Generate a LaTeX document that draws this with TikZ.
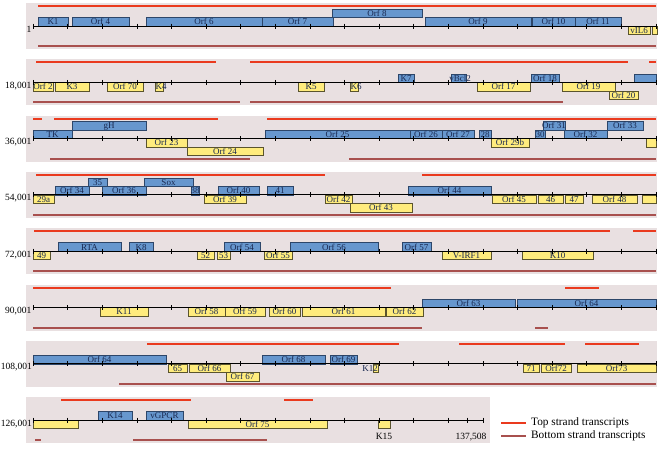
\documentclass[tikz,border=0pt]{standalone}
\usepackage{fontspec}
\setmainfont{Liberation Serif}
\definecolor{panelbg}{RGB}{233,224,225}
\definecolor{bfill}{RGB}{103,151,206}
\definecolor{bdraw}{RGB}{45,70,105}
\definecolor{yfill}{RGB}{255,236,125}
\definecolor{ydraw}{RGB}{90,84,45}
\definecolor{topred}{RGB}{234,58,30}
\definecolor{botbrown}{RGB}{168,80,78}
\definecolor{lbl}{RGB}{25,40,80}
\newcommand\gene[5]{%
  \pgfmathsetmacro\genW{#4-#3}%
  \pgfmathsetmacro\genX{(#3+#4)/2}%
  \node[#2, minimum width=\genW pt] (#1) at (\genX,\ay) {};%
  \node[glab] (#1t) at (#1.center) {#5};%
}
\newcommand\rowticks[1]{%
  \foreach \k in {0,...,#1} \draw[tick] ({33+34.61*\k},\ay-2.5) -- ({33+34.61*\k},\ay+2.5);%
}
\begin{document}
\begin{tikzpicture}[x=1pt,y=-1pt,
  panel/.style={fill=panelbg},
  tx/.style={draw=topred,line width=2pt},
  bx/.style={draw=botbrown,line width=2pt},
  axisline/.style={draw=black,line width=1pt},
  tick/.style={draw=black,line width=0.6pt},
  gbox/.style={draw,line width=0.6pt,minimum height=8.5pt,inner sep=0pt,outer sep=0pt,text height=0pt,text depth=0pt},
  B1/.style={gbox,fill=bfill,draw=bdraw,yshift=4.25pt},
  B2/.style={gbox,fill=bfill,draw=bdraw,yshift=12.75pt},
  Y1/.style={gbox,fill=yfill,draw=ydraw,yshift=-4.25pt},
  Y2/.style={gbox,fill=yfill,draw=ydraw,yshift=-12.75pt},
  glab/.style={font=\fontsize{9}{10}\selectfont,text=lbl,inner sep=0pt,text height=6.2pt,text depth=0pt},
  rowlab/.style={font=\fontsize{9.5}{11}\selectfont,inner sep=0pt,anchor=base east},
  endlab/.style={font=\fontsize{9.5}{11}\selectfont,inner sep=0pt,text height=6.5pt,text depth=0pt},
  leglab/.style={font=\fontsize{11.3}{13}\selectfont,inner sep=0pt,anchor=west}]
\useasboundingbox (0,0) rectangle (664,451);
% ---------------- Row 1
\def\ay{26}
\fill[panel] (26,\ay-23) rectangle (657,\ay+23);
\draw[tx] (38,\ay-20) -- (656,\ay-20);
\draw[bx] (38,\ay+20) -- (656,\ay+20);
\gene{k1}{B1}{38}{68}{K1}
\gene{orf4}{B1}{72}{129}{Orf 4}
\gene{orf6}{B1}{146}{262}{Orf 6}
\gene{orf7}{B1}{262}{333}{Orf 7}
\gene{orf8}{B2}{332}{422}{Orf 8}
\gene{orf9}{B1}{425}{531}{Orf 9}
\gene{orf10}{B1}{532}{575}{Orf 10}
\gene{orf11}{B1}{575}{621}{Orf 11}
\gene{vil6}{Y1}{628}{650}{vIL6}
\gene{r1y}{Y1}{652}{657}{}
\draw[axisline] (33,\ay) -- (656,\ay);
\rowticks{18}
\node[rowlab] (lab1) at (31.5,\ay+6) {1};
% ---------------- Row 2
\def\ay{82.3}
\fill[panel] (26,\ay-23) rectangle (657,\ay+23);
\draw[tx] (36,\ay-20) -- (216,\ay-20);
\draw[tx] (250,\ay-20) -- (628,\ay-20);
\draw[tx] (649,\ay-20) -- (656,\ay-20);
\draw[bx] (33,\ay+20) -- (240,\ay+20);
\draw[bx] (250,\ay+20) -- (563,\ay+20);
\gene{orf2}{Y1}{33}{53}{Orf 2}
\gene{k3}{Y1}{55}{89}{K3}
\gene{orf70}{Y1}{107}{143}{Orf 70}
\gene{k4}{Y1}{155}{163}{}
\node[glab,anchor=west] (k4l) at (155.5,\ay+4.25) {K4};
\gene{k5}{Y1}{298}{324}{K5}
\gene{k6}{Y1}{350}{358}{}
\node[glab,anchor=west] (k6l) at (350.5,\ay+4.25) {K6};
\gene{orf17}{Y1}{477}{530}{Orf 17}
\gene{orf19}{Y1}{562}{615}{Orf 19}
\gene{orf20}{Y2}{609}{638}{Orf 20}
\gene{k7}{B1}{398}{414}{K7}
\gene{vbcl2}{B1}{451}{466}{}
\node[glab] (vbcl2l) at (460,\ay-4.25) {vBcl2};
\gene{orf18}{B1}{531}{559}{Orf 18}
\gene{r2b}{B1}{634}{656}{}
\draw[axisline] (33,\ay) -- (656,\ay);
\rowticks{18}
\node[rowlab] (lab2) at (31.5,\ay+6) {18,001};
% ---------------- Row 3
\def\ay{138.6}
\fill[panel] (26,\ay-23) rectangle (657,\ay+23);
\draw[tx] (33,\ay-20) -- (42,\ay-20);
\draw[tx] (54,\ay-20) -- (218,\ay-20);
\draw[tx] (267,\ay-20) -- (656,\ay-20);
\draw[bx] (50,\ay+20) -- (250,\ay+20);
\draw[bx] (349,\ay+20) -- (656,\ay+20);
\gene{tk}{B1}{33}{72}{TK}
\gene{gh}{B2}{72}{146}{gH}
\gene{orf25}{B1}{265}{410}{Orf 25}
\gene{orf26}{B1}{410}{442}{Orf 26}
\gene{orf27}{B1}{442}{474}{Orf 27}
\gene{n28}{B1}{479}{491}{28}
\gene{n30}{B1}{535}{545}{30}
\gene{orf31}{B2}{543}{565}{Orf 31}
\gene{orf32}{B1}{564}{607}{Orf 32}
\gene{orf33}{B2}{607}{643}{Orf 33}
\gene{orf23}{Y1}{146}{187}{Orf 23}
\gene{orf24}{Y2}{187}{263}{Orf 24}
\gene{orf29b}{Y1}{491}{529}{Orf 29b}
\gene{r3y}{Y1}{646}{656}{}
\draw[axisline] (33,\ay) -- (656,\ay);
\rowticks{18}
\node[rowlab] (lab3) at (31.5,\ay+6) {36,001};
% ---------------- Row 4
\def\ay{194.9}
\fill[panel] (26,\ay-23) rectangle (657,\ay+23);
\draw[tx] (36,\ay-20) -- (325,\ay-20);
\draw[tx] (422,\ay-20) -- (656,\ay-20);
\draw[bx] (33,\ay+20) -- (656,\ay+20);
\gene{n29a}{Y1}{33}{54}{29a}
\gene{orf39}{Y1}{204}{246}{Orf 39}
\gene{orf42}{Y1}{325}{352}{Orf 42}
\gene{orf43}{Y2}{350}{412}{Orf 43}
\gene{orf45}{Y1}{492}{536}{Orf 45}
\gene{n46}{Y1}{538}{563}{46}
\gene{n47}{Y1}{565}{583}{47}
\gene{orf48}{Y1}{592}{637}{Orf 48}
\gene{r4y}{Y1}{642}{656}{}
\gene{orf34}{B1}{55}{89}{Orf 34}
\gene{n35}{B2}{88}{107}{35}
\gene{orf36}{B1}{102}{146}{Orf 36}
\gene{sox}{B2}{144}{193}{Sox}
\gene{n38}{B1}{191}{199}{38}
\gene{orf40}{B1}{218}{259}{Orf 40}
\gene{n41}{B1}{267}{293}{41}
\gene{orf44}{B1}{408}{491}{Orf 44}
\draw[axisline] (33,\ay) -- (656,\ay);
\rowticks{18}
\node[rowlab] (lab4) at (31.5,\ay+6) {54,001};
% ---------------- Row 5
\def\ay{251.2}
\fill[panel] (26,\ay-23) rectangle (657,\ay+23);
\draw[tx] (34,\ay-20) -- (610,\ay-20);
\draw[tx] (633,\ay-20) -- (656,\ay-20);
\draw[bx] (33,\ay+20) -- (656,\ay+20);
\gene{n49}{Y1}{33}{50}{49}
\gene{n52}{Y1}{197}{214}{52}
\gene{n53}{Y1}{217}{230}{53}
\gene{orf55}{Y1}{264}{292}{Orf 55}
\gene{virf1}{Y1}{442}{491}{V-IRF1}
\gene{k10}{Y1}{522}{593}{K10}
\gene{rta}{B1}{58}{121}{RTA}
\gene{k8}{B1}{129}{153}{K8}
\gene{orf54}{B1}{224}{260}{Orf 54}
\gene{orf56}{B1}{290}{378}{Orf 56}
\gene{orf57}{B1}{402}{431}{Orf 57}
\draw[axisline] (33,\ay) -- (656,\ay);
\rowticks{18}
\node[rowlab] (lab5) at (31.5,\ay+6) {72,001};
% ---------------- Row 6
\def\ay{307.5}
\fill[panel] (26,\ay-23) rectangle (657,\ay+23);
\draw[tx] (33,\ay-20) -- (391,\ay-20);
\draw[tx] (565,\ay-20) -- (599,\ay-20);
\draw[bx] (33,\ay+20) -- (422,\ay+20);
\draw[bx] (535,\ay+20) -- (548,\ay+20);
\gene{k11}{Y1}{100}{148}{K11}
\gene{orf58}{Y1}{188}{225}{Orf 58}
\gene{orf59}{Y1}{225}{265}{Orf 59}
\gene{orf60}{Y1}{269}{300}{Orf 60}
\gene{orf61}{Y1}{302}{385}{Orf 61}
\gene{orf62}{Y1}{386}{423}{Orf 62}
\gene{orf63}{B1}{422}{515}{Orf 63}
\gene{orf64a}{B1}{517}{656}{Orf 64}
\draw[axisline] (33,\ay) -- (656,\ay);
\rowticks{18}
\node[rowlab] (lab6) at (31.5,\ay+6) {90,001};
% ---------------- Row 7
\def\ay{363.8}
\fill[panel] (26,\ay-23) rectangle (657,\ay+23);
\draw[tx] (147,\ay-20) -- (399,\ay-20);
\draw[tx] (459,\ay-20) -- (565,\ay-20);
\draw[tx] (585,\ay-20) -- (639,\ay-20);
\draw[bx] (119,\ay+20) -- (656,\ay+20);
\gene{orf64b}{B1}{33}{166}{Orf 64}
\gene{orf68}{B1}{262}{325}{Orf 68}
\gene{orf69}{B1}{330}{357}{Orf 69}
\gene{n65}{Y1}{168}{187}{65}
\gene{orf66}{Y1}{189}{230}{Orf 66}
\gene{orf67}{Y2}{226}{259}{Orf 67}
\gene{k12}{Y1}{373}{378}{}
\node[glab,anchor=east] (k12l) at (378,\ay+4.25) {K12};
\gene{n71}{Y1}{523}{539}{71}
\gene{orf72}{Y1}{541}{571}{Orf72}
\gene{orf73}{Y1}{577}{656}{Orf73}
\draw[axisline] (33,\ay) -- (656,\ay);
\rowticks{18}
\node[rowlab] (lab7) at (32,\ay+6) {108,001};
% ---------------- Row 8
\def\ay{420.1}
\fill[panel] (26,\ay-23) rectangle (490,\ay+23);
\draw[tx] (61,\ay-20) -- (191,\ay-20);
\draw[tx] (284,\ay-20) -- (313,\ay-20);
\draw[bx] (35,\ay+20) -- (41,\ay+20);
\draw[bx] (133,\ay+20) -- (267,\ay+20);
\gene{r8y}{Y1}{33}{78}{}
\gene{orf75}{Y1}{188}{327}{Orf 75}
\gene{k15}{Y1}{378}{390}{}
\node[endlab] (k15l) at (384,\ay+16.5) {K15};
\gene{k14}{B1}{98}{132}{K14}
\gene{vgpcr}{B1}{146}{183}{vGPCR}
\draw[axisline] (33,\ay) -- (483,\ay);
\rowticks{12}
\draw[tick] (467,\ay-2.5) -- (467,\ay+2.5);
\draw[tick] (483,\ay-2.5) -- (483,\ay+2.5);
\node[endlab] (endl) at (471,\ay+16.5) {137,508};
\node[rowlab] (lab8) at (32,\ay+6) {126,001};
% ---------------- Legend
\coordinate (lt1) at (501,423);
\coordinate (lt2) at (526,423);
\coordinate (lb1) at (501,436);
\coordinate (lb2) at (526,436);
\draw[tx] (lt1) -- (lt2);
\draw[bx] (lb1) -- (lb2);
\node[leglab] (legt) at (531,423) {Top strand transcripts};
\node[leglab] (legb) at (531,436) {Bottom strand transcripts};
\end{tikzpicture}
\end{document}
